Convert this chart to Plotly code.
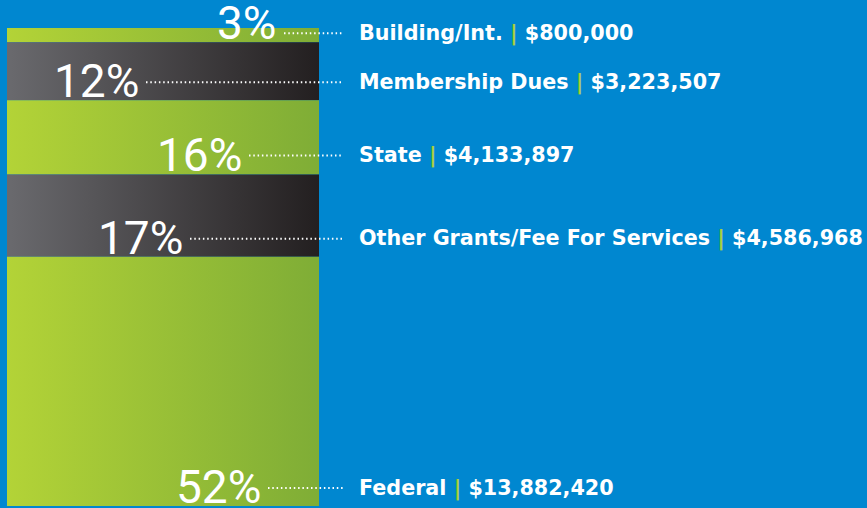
import plotly.graph_objects as go

# revenue sources, listed top of the stack first
categories = ["Building/Int.", "Membership Dues", "State",
              "Other Grants/Fee For Services", "Federal"]
amounts = [800000, 3223507, 4133897, 4586968, 13882420]
segment_tone = ["green", "dark", "green", "dark", "green"]

BLUE = "#0087D0"
SEP_GREEN = "#A8CF38"
GRADIENTS = {
    "green": [[0, "#B3D337"], [1, "#7FAD36"]],
    "dark": [[0, "#6A6A6E"], [1, "#231F20"]],
}

W, H = 867, 508
BAR_X0, BAR_X1 = 7, 319
BAR_TOP_PX, BAR_BOTTOM_PX = 28, 506
LABEL_X = 357
LEADER_END = 343

# per-label layout tweaks (pixels): right edge of the % text, leader rise above segment bottom
pct_right = [279, 141, 244, 185, 263]
leader_rise = [9, 18, 19, 18, 18]

total = sum(amounts)
px_per_unit = (BAR_BOTTOM_PX - BAR_TOP_PX) / total
y_range = [-(H - BAR_BOTTOM_PX) / px_per_unit, total + BAR_TOP_PX / px_per_unit]


def px(v):
    return v / px_per_unit


# cumulative bounds, stacking from the bottom (last item) up
bounds = []
top = total
for amt in amounts:
    bounds.append((top - amt, top))
    top -= amt

fig = go.Figure()

for (lo, hi), tone in zip(bounds, segment_tone):
    fig.add_trace(go.Scatter(
        x=[BAR_X0, BAR_X1, BAR_X1, BAR_X0, BAR_X0],
        y=[lo, lo, hi, hi, lo],
        mode="lines",
        line_width=0,
        fill="toself",
        fillgradient=dict(type="horizontal", colorscale=GRADIENTS[tone]),
        hoverinfo="skip",
        showlegend=False,
    ))

for i, (cat, amt) in enumerate(zip(categories, amounts)):
    lo = bounds[i][0]
    pct = round(amt / total * 100)
    line_y = lo + px(leader_rise[i])

    fig.add_annotation(
        x=pct_right[i], y=lo, xref="x", yref="y",
        xanchor="right", yanchor="bottom", yshift=-10,
        text=f"{pct}%", showarrow=False,
        font=dict(family="Roboto", size=46, color="white"),
    )
    fig.add_shape(
        type="line", xref="x", yref="y",
        x0=pct_right[i] + 5, x1=LEADER_END, y0=line_y, y1=line_y,
        line=dict(color="white", width=2, dash="1.5px,2.8px"),
    )
    fig.add_annotation(
        x=LABEL_X, y=line_y, xref="x", yref="y",
        xanchor="left", yanchor="middle",
        text=f"{cat} <span style='color:{SEP_GREEN}'>|</span> ${amt:,}",
        showarrow=False,
        font=dict(family="DejaVu Sans", size=20.7, color="white", weight="bold"),
    )

fig.update_layout(
    width=W, height=H,
    margin=dict(l=0, r=0, t=0, b=0),
    paper_bgcolor=BLUE, plot_bgcolor=BLUE,
    xaxis=dict(range=[0, W], visible=False, fixedrange=True),
    yaxis=dict(range=y_range, visible=False, fixedrange=True),
    showlegend=False,
)

# drop the default page margin so the figure sits flush in the window
fig.write_html(
    "out.html",
    config={"displayModeBar": False},
    post_script="document.body.style.margin='0';document.body.style.overflow='hidden';",
)
